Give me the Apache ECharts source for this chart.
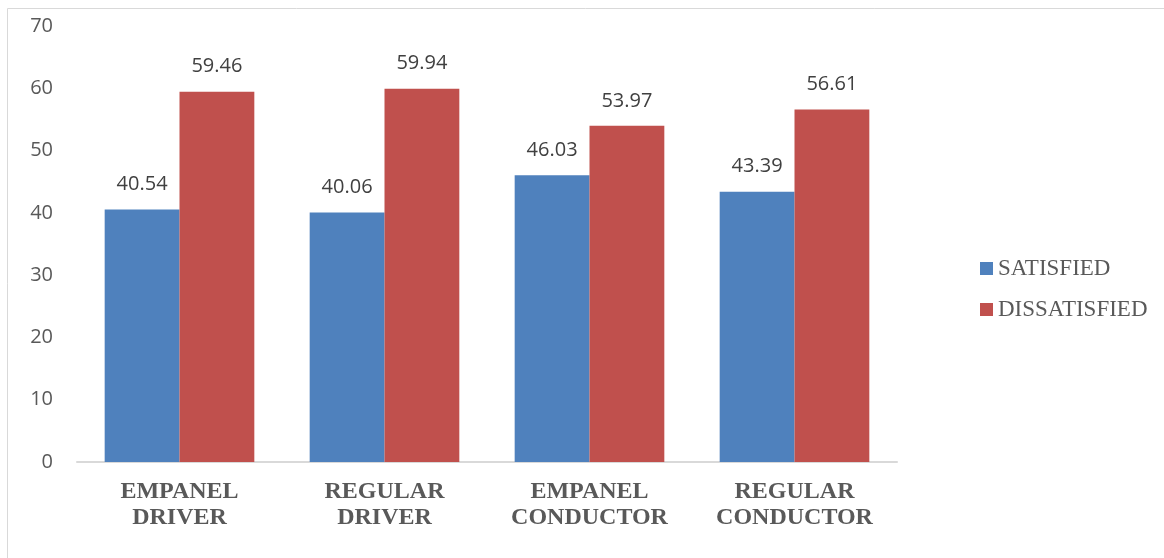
<!DOCTYPE html>
<html><head><meta charset="utf-8">
<script src="https://cdn.jsdelivr.net/npm/echarts@6/dist/echarts.min.js"></script>
<style>html,body{margin:0;padding:0;background:#fff}#c{width:1164px;height:558px}</style>
</head><body><div id="c"></div>
<script>
const categories = ['EMPANEL\nDRIVER', 'REGULAR\nDRIVER', 'EMPANEL\nCONDUCTOR', 'REGULAR\nCONDUCTOR'];
const satisfied = [40.54, 40.06, 46.03, 43.39];
const dissatisfied = [59.46, 59.94, 53.97, 56.61];
const seriesNames = ['SATISFIED', 'DISSATISFIED'];

const chart = echarts.init(document.getElementById('c'), null, {renderer: 'canvas'});
const labelStyle = {show: true, position: 'top', distance: 15, color: '#404040', fontSize: 20, fontFamily: 'Open Sans', formatter: p => p.value.toFixed(2)};
chart.setOption({
  animation: false,
  graphic: [
    {type: 'line', shape: {x1: 7.5, y1: 8.5, x2: 1164, y2: 8.5}, style: {stroke: '#d9d9d9', lineWidth: 1}},
    {type: 'line', shape: {x1: 7.5, y1: 8.5, x2: 7.5, y2: 558}, style: {stroke: '#d9d9d9', lineWidth: 1}}
  ],
  legend: {
    orient: 'vertical', left: 975, top: 252,
    itemWidth: 13, itemHeight: 13, itemGap: 18,
    icon: 'rect',
    textStyle: {fontFamily: 'Liberation Serif', fontSize: 23, color: '#595959'},
    data: seriesNames
  },
  grid: {left: 77, right: 267, top: 26, bottom: 96, containLabel: false},
  xAxis: {
    type: 'category', data: categories,
    axisLine: {lineStyle: {color: '#d9d9d9', width: 2}},
    axisTick: {show: false},
    axisLabel: {margin: 17, fontFamily: 'Liberation Serif', fontWeight: 'bold', fontSize: 24, lineHeight: 26, color: '#595959', interval: 0}
  },
  yAxis: {
    type: 'value', min: 0, max: 70, interval: 10,
    axisLine: {show: false}, axisTick: {show: false},
    splitLine: {show: false},
    axisLabel: {margin: 24, fontFamily: 'Open Sans', fontSize: 20, color: '#595959'}
  },
  series: [
    {name: seriesNames[0], type: 'bar', data: satisfied, barGap: '0%', barCategoryGap: '27%', itemStyle: {color: '#4F81BD'}, label: labelStyle},
    {name: seriesNames[1], type: 'bar', data: dissatisfied, barGap: '0%', barCategoryGap: '27%', itemStyle: {color: '#C0504D'}, label: labelStyle}
  ]
});
</script></body></html>
